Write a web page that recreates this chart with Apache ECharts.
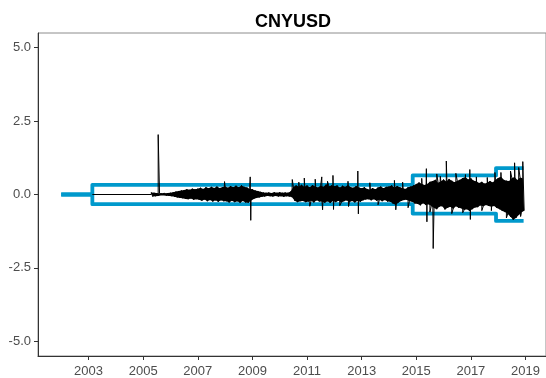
<!DOCTYPE html>
<html>
<head>
<meta charset="utf-8">
<script src="https://cdn.jsdelivr.net/npm/echarts@6/dist/echarts.min.js"></script>
<style>
  html, body { margin: 0; padding: 0; background: #fff; }
  #main { width: 546px; height: 378px; }
</style>
</head>
<body>
<div id="main"></div>
<script>
// tick labels
const yearTicks = [2003, 2005, 2007, 2009, 2011, 2013, 2015, 2017, 2019];
const valueTicks = [-5, -2.5, 0, 2.5, 5];

// band (blue step): start year of each regime and its half width
const bandStart = [2002, 2003.14, 2014.87, 2017.92];
const bandWidth = [0, 0.33, 0.65, 0.9];
const bandEnd = 2018.93;

// flat (pegged) part of the returns
const flatStart = 2003.14;
const flatEnd = 2005.3;

// returns envelope, one pair per 0.1 year from 2005.3
const bucketStart = 2005.3;
const bucketStep = 0.1;
const hi = [
  0.07, 0.06, 0.05, 0.03, 0.03, 0.04, 0.05,
  0.06, 0.08, 0.1, 0.12, 0.14, 0.15, 0.18, 0.16, 0.2, 0.18,
  0.2, 0.23, 0.19, 0.25, 0.21, 0.26, 0.22, 0.27, 0.22, 0.25,
  0.28, 0.23, 0.29, 0.25, 0.3, 0.25, 0.31, 0.26, 0.24, 0.2,
  0.18, 0.14, 0.12, 0.09, 0.07, 0.06, 0.07, 0.05, 0.08, 0.06,
  0.08, 0.06, 0.07, 0.06, 0.1, 0.26, 0.31, 0.27, 0.33, 0.26,
  0.31, 0.25, 0.32, 0.27, 0.24, 0.31, 0.26, 0.34, 0.28, 0.31,
  0.28, 0.31, 0.24, 0.3, 0.26, 0.32, 0.25, 0.23, 0.29, 0.24,
  0.21, 0.25, 0.19, 0.17, 0.22, 0.18, 0.24, 0.27, 0.21, 0.26,
  0.27, 0.31, 0.24, 0.29, 0.25, 0.22, 0.19, 0.25, 0.27, 0.31,
  0.36, 0.41, 0.37, 0.32, 0.36, 0.43, 0.46, 0.5, 0.4, 0.45,
  0.51, 0.44, 0.53, 0.47, 0.42, 0.47, 0.5, 0.56, 0.6, 0.51,
  0.55, 0.47, 0.45, 0.39, 0.43, 0.37, 0.41, 0.46, 0.41, 0.5,
  0.56, 0.61, 0.5, 0.47, 0.46, 0.56, 0.6, 0.49, 0.58, 0.55
];
const lo = [
  -0.07, -0.06, -0.05, -0.03, -0.03, -0.04, -0.05,
  -0.06, -0.08, -0.1, -0.12, -0.13, -0.15, -0.16, -0.14, -0.18, -0.16,
  -0.18, -0.21, -0.17, -0.23, -0.19, -0.24, -0.2, -0.25, -0.2, -0.23,
  -0.23, -0.27, -0.21, -0.26, -0.23, -0.28, -0.22, -0.27, -0.28, -0.21,
  -0.15, -0.12, -0.1, -0.08, -0.07, -0.05, -0.06, -0.07, -0.05, -0.07,
  -0.06, -0.08, -0.06, -0.07, -0.09, -0.21, -0.26, -0.23, -0.22, -0.26,
  -0.24, -0.21, -0.27, -0.2, -0.24, -0.25, -0.28, -0.23, -0.29, -0.22,
  -0.26, -0.21, -0.28, -0.23, -0.2, -0.26, -0.22, -0.27, -0.21, -0.25,
  -0.2, -0.17, -0.16, -0.2, -0.16, -0.21, -0.18, -0.23, -0.19, -0.24,
  -0.25, -0.31, -0.36, -0.27, -0.22, -0.19, -0.18, -0.23, -0.25, -0.31,
  -0.32, -0.37, -0.3, -0.36, -0.33, -0.39, -0.46, -0.5, -0.41, -0.4,
  -0.51, -0.45, -0.42, -0.49, -0.4, -0.45, -0.47, -0.53, -0.5, -0.56,
  -0.5, -0.44, -0.43, -0.37, -0.41, -0.36, -0.39, -0.42, -0.39, -0.46,
  -0.5, -0.56, -0.6, -0.66, -0.76, -0.86, -0.8, -0.7, -0.61, -0.55
];

// single large moves
const spikeYear = [
  2005.55, 2007.98, 2008.92, 2008.94, 2010.46, 2010.7, 2010.9, 2011.1, 2011.3,
  2011.54, 2011.57, 2011.75, 2011.95, 2011.97, 2012.2, 2012.5, 2012.52,
  2012.86, 2012.88, 2013.3, 2013.6, 2014.2, 2014.25, 2014.5, 2014.7,
  2015.2, 2015.37, 2015.39, 2015.5, 2015.62, 2015.75, 2015.88, 2016.1,
  2016.3, 2016.45, 2016.7, 2016.8, 2016.96, 2016.98, 2017.2, 2017.4,
  2017.6, 2017.75, 2017.88, 2018.1, 2018.3, 2018.45, 2018.6, 2018.75,
  2018.82, 2018.9
];
const spikeValue = [
  2.04, 0.44, 0.6, -0.88, 0.51, 0.42, 0.56, -0.4, 0.52,
  0.6, -0.52, 0.45, 0.65, -0.51, -0.38, 0.45, -0.41,
  0.8, -0.66, 0.4, -0.35, 0.48, -0.52, 0.42, -0.45,
  0.55, 0.88, -0.93, -0.6, -1.84, 0.7, 0.62, 1.14,
  -0.65, 0.72, -0.62, 0.68, 0.85, -0.85, 0.6, -0.55,
  0.58, -0.55, 0.75, 0.75, -0.8, 0.8, 1.08, 0.92,
  -0.75, 1.12
];

const returns = [[flatStart, 0], [flatEnd, 0]];
const envelope = [];
hi.forEach((h, i) => {
  const t = bucketStart + i * bucketStep;
  returns.push([t, h]);
  returns.push([t + bucketStep / 2, lo[i]]);
  envelope.push([t, h, lo[i]]);
});
spikeYear.forEach((t, i) => returns.push([t, spikeValue[i]]));
returns.sort((a, b) => a[0] - b[0]);

const upper = bandStart.map((t, i) => [t, bandWidth[i]]);
upper.push([bandEnd, bandWidth[bandWidth.length - 1]]);
const lower = upper.map(d => [d[0], -d[1]]);

const chart = echarts.init(document.getElementById('main'));
const bandStyle = { color: '#0099cc', width: 3.8, join: 'round', cap: 'butt' };

chart.setOption({
  animation: false,
  title: {
    text: 'CNYUSD',
    left: 288,
    textAlign: 'center',
    top: 8,
    textStyle: { fontFamily: 'Liberation Sans', fontWeight: 'bold', fontSize: 18, color: '#000' }
  },
  grid: {
    left: 38, right: -3.5, top: 33, bottom: 22,
    show: true, borderColor: '#8c8c8c', borderWidth: 1
  },
  xAxis: {
    type: 'value',
    min: 2001.15,
    max: 2019.75,
    splitLine: { show: false },
    axisLine: { onZero: false, lineStyle: { color: '#333', width: 1 } },
    axisTick: { customValues: yearTicks, length: 4, lineStyle: { color: '#333' } },
    axisLabel: {
      customValues: yearTicks,
      color: '#4d4d4d',
      fontFamily: 'Liberation Sans',
      fontSize: 13,
      margin: 9,
      formatter: v => String(Math.round(v))
    }
  },
  yAxis: {
    type: 'value',
    min: -5.5,
    max: 5.5,
    splitLine: { show: false },
    axisLine: { show: true, onZero: false, lineStyle: { color: '#333', width: 1 } },
    axisTick: { show: true, customValues: valueTicks, length: 4, lineStyle: { color: '#333' } },
    axisLabel: {
      customValues: valueTicks,
      color: '#4d4d4d',
      fontFamily: 'Liberation Sans',
      fontSize: 13,
      margin: 7,
      formatter: v => v.toFixed(1)
    }
  },
  series: [
    {
      name: 'upper',
      type: 'line',
      step: 'end',
      data: upper,
      showSymbol: false,
      lineStyle: bandStyle,
      z: 2
    },
    {
      name: 'lower',
      type: 'line',
      step: 'end',
      data: lower,
      showSymbol: false,
      lineStyle: bandStyle,
      z: 2
    },
    {
      name: 'envelope',
      type: 'custom',
      data: [envelope[0]],
      encode: { x: 0, y: 1 },
      clip: true,
      z: 3,
      renderItem: (params, api) => {
        const top = envelope.map(d => api.coord([d[0], d[1]]));
        const bottom = envelope.map(d => api.coord([d[0] + bucketStep / 2, d[2]])).reverse();
        return {
          type: 'polygon',
          shape: { points: top.concat(bottom) },
          style: { fill: '#000' }
        };
      }
    },
    {
      name: 'CNYUSD',
      type: 'line',
      data: returns,
      showSymbol: false,
      sampling: 'none',
      lineStyle: { color: '#000', width: 1, join: 'round' },
      z: 4
    }
  ]
});
</script>
</body>
</html>
